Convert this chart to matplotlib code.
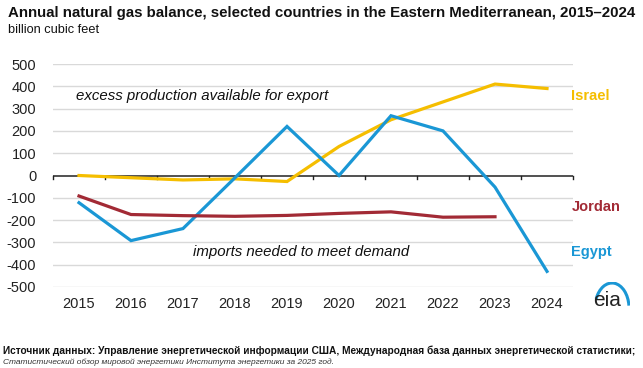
import numpy as np
import matplotlib.pyplot as plt
from matplotlib.patches import Arc

years = ['2015', '2016', '2017', '2018', '2019', '2020', '2021', '2022', '2023', '2024']
israel = [0, -10, -20, -15, -27, 130, 250, 330, 410, 390]
egypt = [-122, -292, -238, -10, 220, 0, 268, 200, -52, -430]
jordan = [-92, -175, -180, -183, -179, -170, -163, -187, -185]

yticks = [500, 400, 300, 200, 100, 0, -100, -200, -300, -400, -500]

c_israel = '#F5BE00'
c_egypt = '#1A97D5'
c_jordan = '#A22A35'

plt.rcParams['font.family'] = ['Liberation Sans', 'DejaVu Sans']

fig = plt.figure(figsize=(6.43, 3.68), dpi=100)
ax = fig.add_axes([53/643, 1 - 287/368, 520/643, 223/368])

x = np.arange(len(years))
ax.plot(x, israel, color=c_israel, lw=2.3, solid_joinstyle='miter')
ax.plot(x, egypt, color=c_egypt, lw=2.3, solid_joinstyle='miter')
ax.plot(x[:len(jordan)], jordan, color=c_jordan, lw=2.3)

ax.set_xlim(-0.5, len(years) - 0.5)
ax.set_ylim(-500, 500)
ax.set_yticks(yticks)
ax.set_yticklabels([str(v) for v in yticks])
ax.set_xticks(x)
ax.set_xticklabels(years)
ax.tick_params(axis='both', length=0, labelsize=10.5, colors='#222222')
ax.tick_params(axis='x', pad=7)
ax.tick_params(axis='y', pad=12)
for v in yticks:
    if v != 0:
        ax.axhline(v, color='#d9d9d9', lw=1, zorder=0)
ax.axhline(0, color='#222222', lw=1.1, zorder=1)
for b in np.arange(-0.5, len(years), 1):
    ax.plot([b, b], [0, -14], color='#222222', lw=1, clip_on=False, zorder=1)
for s in ax.spines.values():
    s.set_visible(False)

ax.text(9.47, 355, 'Israel', color=c_israel, fontsize=10.5, fontweight='bold', va='center')
ax.text(9.47, -140, 'Jordan', color=c_jordan, fontsize=10.5, fontweight='bold', va='center')
ax.text(9.47, -345, 'Egypt', color=c_egypt, fontsize=10.5, fontweight='bold', va='center')
ax.text(-0.05, 355, 'excess production available for export', fontsize=10.8,
        style='italic', va='center', color='#111111')
ax.text(2.2, -345, 'imports needed to meet demand', fontsize=10.8,
        style='italic', va='center', color='#111111')

fig.text(8/643, 1 - 13/368, 'Annual natural gas balance, selected countries in the Eastern Mediterranean, 2015\u20132024',
         fontsize=10.8, fontweight='bold', va='center', color='#111111')
fig.text(8/643, 1 - 30/368, 'billion cubic feet', fontsize=9.2, va='center', color='#111111')

fig.text(3/643, 1 - 351/368,
         'Источник данных: Управление энергетической информации США, Международная база данных энергетической статистики;',
         fontsize=7.3, fontweight='bold', va='center', color='#111111')
fig.text(3/643, 1 - 362/368, 'Статистический обзор мировой энергетики Института энергетики за 2025 год.',
         fontsize=6.0, style='italic', va='center', color='#333333')

# eia logo
fig.text(607/643, 1 - 301/368, 'eia', fontsize=15, ha='center', va='center', color='#222222')
lax = fig.add_axes([590/643, 1 - 312/368, 40/643, 30/368])
lax.set_xlim(0, 40)
lax.set_ylim(0, 30)
lax.axis('off')
lax.add_patch(Arc((22, 4), 34, 50, theta1=8, theta2=150, color=c_egypt, lw=2.2))

fig.savefig('out.png', dpi=100)
